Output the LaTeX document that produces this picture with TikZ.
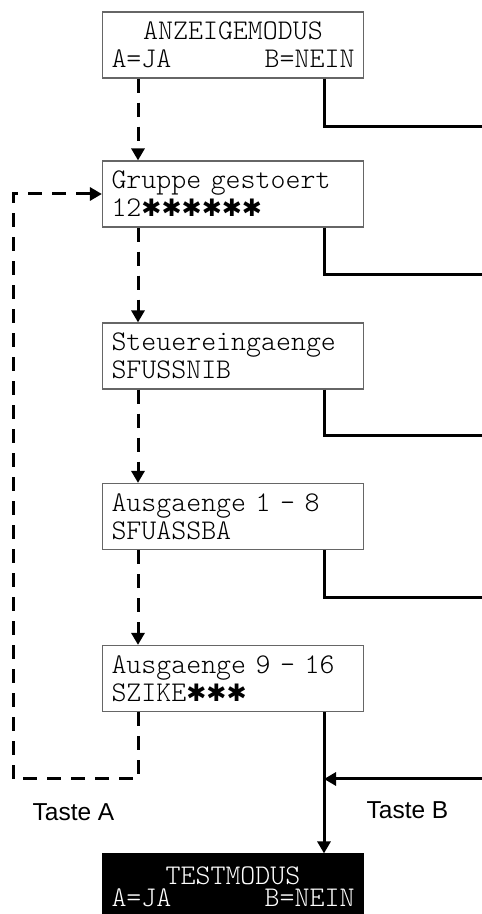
\documentclass[tikz,border=0pt]{standalone}
\usepackage{fontspec}
\setmainfont{Liberation Sans}
\setmonofont{Latin Modern Mono Light}
\newfontfamily\starfont{DejaVu Sans}
\usetikzlibrary{arrows.meta}

\newcommand\lcdstar{{\starfont\fontsize{24}{26}\selectfont ✱}}

\begin{document}
\begin{tikzpicture}[x=1pt,y=1pt,
  lcdbox/.style={draw=boxColor,line width=1.2pt,fill=white,
    minimum width=261pt,minimum height=66pt,text width=243pt,
    inner xsep=9pt,align=left,
    font=\fontsize{28.5}{28}\selectfont\ttfamily},
  tastelabel/.style={anchor=base,inner sep=0pt,
    font=\fontsize{24.5}{28}\selectfont},
  ja/.style={draw=black,line width=3pt,dash pattern=on 14pt off 10pt,
    -{Triangle[width=13pt,length=12pt]}},
  nein/.style={draw=black,line width=3pt}]
\definecolor{boxColor}{gray}{0.40}
\path[use as bounding box,fill=white] (0,0) rectangle (482,914);

% menu boxes
\node[lcdbox,align=center] (anzeige) at (233,869)
  {ANZEIGEMODUS\\\makebox[\linewidth]{A=JA\hfill B=NEIN}};
\node[lcdbox] (gruppe) at (233,720)
  {Gruppe gestoert\\12\lcdstar\lcdstar\lcdstar\lcdstar\lcdstar\lcdstar};
\node[lcdbox] (steuer) at (233,558) {Steuereingaenge\\SFUSSNIB};
\node[lcdbox] (ausA) at (233,397.5) {Ausgaenge 1 - 8\\SFUASSBA};
\node[lcdbox] (ausB) at (233,235.5)
  {Ausgaenge 9 - 16\\SZIKE\lcdstar\lcdstar\lcdstar};
\node[lcdbox,align=center,fill=black,draw=black,text=white,
  minimum height=60pt,inner ysep=0pt,text height=31pt,text depth=29pt,
  font=\fontsize{28.5}{22}\selectfont\ttfamily] (test) at (233,30)
  {TESTMODUS\\\makebox[\linewidth]{A=JA\hfill B=NEIN}};

% columns and free ends
\coordinate (jx) at (138,0);
\coordinate (nx) at (324,0);
\coordinate (loop) at (13,135);
\coordinate (neinIn) at (482,135);
\coordinate (neinA) at (482,787);
\coordinate (neinB) at (482,639);
\coordinate (neinC) at (482,478);
\coordinate (neinD) at (482,316);

% Taste A
\draw[ja] (anzeige.south -| jx) -- (gruppe.north -| jx);
\draw[ja] (gruppe.south -| jx) -- (steuer.north -| jx);
\draw[ja] (steuer.south -| jx) -- (ausA.north -| jx);
\draw[ja] (ausA.south -| jx) -- (ausB.north -| jx);
\draw[ja] (ausB.south -| jx) |- (loop) |- (gruppe.west);

% Taste B
\draw[nein] (anzeige.south -| nx) |- (neinA);
\draw[nein] (gruppe.south -| nx) |- (neinB);
\draw[nein] (steuer.south -| nx) |- (neinC);
\draw[nein] (ausA.south -| nx) |- (neinD);
\draw[nein,-{Triangle[width=13pt,length=12pt]}] (ausB.south -| nx) -- (test.north -| nx);
\draw[nein,-{Triangle[width=13pt,length=12pt]}] (neinIn) -- (nx |- neinIn);

\node[tastelabel] (tasteA) at (73.5,93) {Taste A};
\node[tastelabel] (tasteB) at (407.5,95) {Taste B};
\end{tikzpicture}
\end{document}
